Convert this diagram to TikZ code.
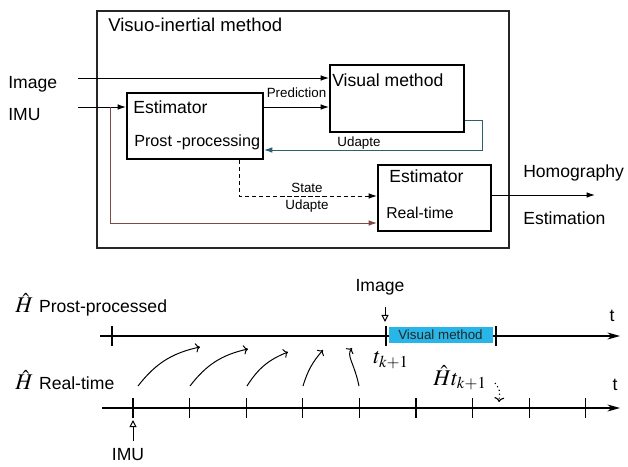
\documentclass[tikz,border=0pt]{standalone}
\usepackage{mathptmx}
\usepackage{fontspec}
\setsansfont{Liberation Sans}
\usetikzlibrary{arrows.meta,positioning,calc}
\definecolor{imuline}{RGB}{125,75,65}
\definecolor{udline}{RGB}{45,95,110}
\definecolor{vmblue}{RGB}{40,182,232}

\begin{document}
\begin{tikzpicture}[
  txt/.style={font=\sffamily\fontsize{12.5}{14}\selectfont, inner sep=0pt},
  small/.style={font=\sffamily\fontsize{9.5}{11}\selectfont, inner sep=0pt},
  blk/.style={draw, line width=1.4pt, inner sep=0pt},
  arr/.style={-{Latex[length=6pt,width=4pt]}, line width=0.7pt},
  axis/.style={-{Stealth[length=9pt,width=5pt]}, line width=0.8pt},
  openarr/.style={-{Triangle[open,length=5pt,width=5pt]}, line width=0.7pt},
  hat/.style={font=\fontsize{16}{19}\selectfont, inner sep=0pt},
  ]
  \useasboundingbox (0,0) rectangle (15.7,11.65);
  % block diagram
  \node[draw=black!85, line width=1pt, minimum width=10.3cm, minimum height=5.93cm] (frame) at (7.575,8.41) {};
  \node[txt, anchor=west, font=\sffamily\fontsize{13.2}{15}\selectfont] (title) at (2.7,11.025) {Visuo-inertial method};
  \node[blk, minimum width=3.4cm, minimum height=1.65cm] (est) at (4.875,8.5) {};
  \node[blk, minimum width=3.35cm, minimum height=1.675cm] (vis) at (9.925,9.19) {};
  \node[blk, minimum width=2.825cm, minimum height=1.65cm] (rt) at (10.8625,6.7) {};
  \node[txt, anchor=west] (estA) at (3.325,8.975) {Estimator};
  \node[txt, anchor=west, font=\sffamily\fontsize{11.5}{13}\selectfont] (estB) at (3.35,8.1) {Prost -processing};
  \node[txt, anchor=west] (visA) at (8.3,9.65) {Visual method};
  \node[txt, anchor=west] (rtA) at (9.725,7.25) {Estimator};
  \node[txt, anchor=west, font=\sffamily\fontsize{11.2}{13}\selectfont] (rtB) at (9.65,6.325) {Real-time};
  \node[txt, anchor=west] (img) at (0.2,9.55) {Image};
  \node[txt, anchor=west] (imu) at (0.2,8.775) {IMU};
  \node[txt, anchor=west] (homo) at (13.075,7.325) {Homography};
  \node[txt, anchor=west] (estim) at (13.075,6.2) {Estimation};
  \coordinate (imgin) at (1.95,9.7);
  \coordinate (imuin) at (1.95,8.975);
  \coordinate (udturn) at (12.05,7.9);
  \coordinate (stdrop) at (5.975,6.75);
  \coordinate (imubr) at (2.75,6.075);
  \coordinate (hout) at (14.875,6.775);
  \draw[arr] (imgin) -- (imgin -| vis.west);
  \draw[arr] (imuin) -- (imuin -| est.west);
  \draw[arr] (est.east |- imuin) -- node[small, midway, above=0.22cm] (pred) {Prediction} (vis.west |- imuin);
  \draw[arr, udline] ($(vis.south east)+(0,0.3)$) -| (udturn) -- (udturn -| est.east);
  \node[small] (udA) at (8.975,8.075) {Udapte};
  \draw[arr, densely dashed] (stdrop |- est.south) -- (stdrop) -- (stdrop -| rt.west);
  \node[small] (state) at (7.675,6.95) {State};
  \node[small] (udB) at (7.675,6.5) {Udapte};
  \draw[arr, imuline] (imubr |- imuin) |- (imubr -| rt.west);
  \draw[arr] (hout -| rt.east) -- (hout);
  % timelines
  \node[anchor=west, inner sep=0pt] (hpp) at (0.375,4.025) {\fontsize{16}{19}\selectfont$\hat{H}$\hspace{0.15cm}\sffamily\fontsize{12.5}{14}\selectfont Prost-processed};
  \node[anchor=west, inner sep=0pt] (hrt) at (0.375,2.15) {\fontsize{16}{19}\selectfont$\hat{H}$\hspace{0.15cm}\sffamily\fontsize{12.5}{14}\selectfont Real-time};
  \coordinate (ppa) at (2.5,3.25);
  \coordinate (ppb) at (15.5,3.25);
  \coordinate (rta) at (2.55,1.45);
  \coordinate (rtb) at (15.5,1.45);
  \draw[axis] (ppa) -- (ppb);
  \draw[axis] (rta) -- (rtb);
  \node[small, fill=vmblue, text=black!85, minimum width=2.6cm, minimum height=0.4cm] (vmbar) at (11.0125,3.275) {Visual method};
  \foreach \x in {2.8,9.65,12.4}
    \draw[line width=0.8pt] (\x,3.0) -- (\x,3.5);
  \foreach \i in {0,...,8}
    \draw[line width=0.8pt] ({3.325+1.415*\i},1.2) -- ({3.325+1.415*\i},1.7);
  \node[txt] (tA) at (15.3,3.75) {t};
  \node[txt] (tB) at (15.375,2.025) {t};
  \node[txt] (imgt) at (9.5,4.475) {Image};
  \coordinate (imgarr) at (9.625,3.975);
  \draw[openarr] (imgarr) -- ++(0,-0.375);
  \node[hat] (tk) at (9.775,2.65) {$t_{k+1}$};
  \node[txt] (imub) at (3.2,0.275) {IMU};
  \coordinate (imuarr) at (3.325,0.625);
  \draw[openarr] (imuarr) -- ++(0,0.525);
  \node[hat] (htk) at (11.5,2.2) {$\hat{H}t_{k+1}$};
  \draw[->, line width=0.7pt] (3.45,2.0) to[bend left=20] (5.0,2.975);
  \draw[->, line width=0.7pt] (4.75,2.0) to[bend left=20] (6.2,2.925);
  \draw[->, line width=0.7pt] (6.175,2.0) to[bend left=18] (7.2,2.85);
  \draw[->, line width=0.7pt] (7.575,2.0) to[bend left=12] (8.075,2.9);
  \draw[->, line width=0.7pt] (8.975,2.0) .. controls (8.85,2.6) and (8.65,2.75) .. (8.8,2.95);
  \draw[->, dotted, line width=0.8pt] (12.375,2.075) .. controls (12.5,1.9) .. (12.475,1.6);
\end{tikzpicture}
\end{document}
